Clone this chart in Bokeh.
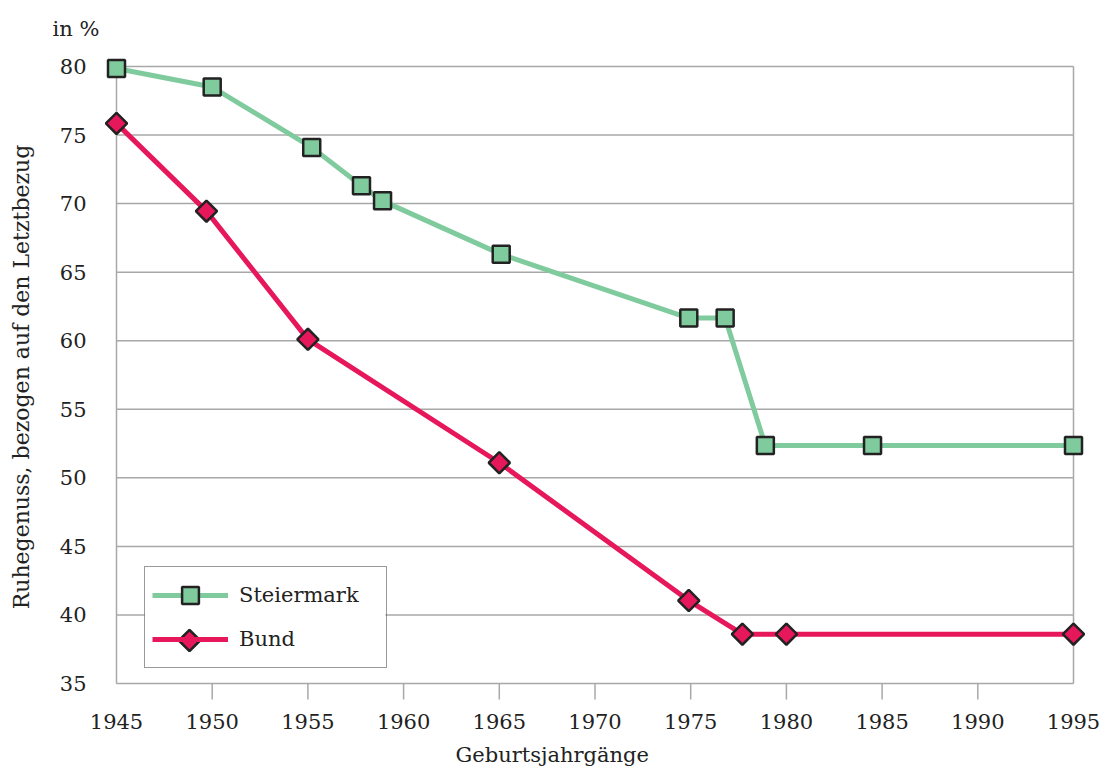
import math
from bokeh.plotting import figure
from bokeh.models import FixedTicker, Legend, LegendItem, Title, ColumnDataSource
from bokeh.embed import file_html
from bokeh.resources import INLINE

# ---- data ----
st_years = [1945, 1950.0, 1955.2, 1957.8, 1958.9, 1965.1, 1974.9, 1976.8, 1978.9, 1984.5, 1995]
st_values = [79.85, 78.5, 74.1, 71.3, 70.2, 66.3, 61.65, 61.65, 52.35, 52.35, 52.35]
bu_years = [1945, 1949.7, 1955.0, 1965.0, 1974.9, 1977.7, 1980.0, 1995]
bu_values = [75.85, 69.45, 60.1, 51.1, 41.05, 38.6, 38.6, 38.6]
x_ticks = [1945, 1950, 1955, 1960, 1965, 1970, 1975, 1980, 1985, 1990, 1995]
y_ticks = [35, 40, 45, 50, 55, 60, 65, 70, 75, 80]
series_names = ["Steiermark", "Bund"]

GREEN = "#80CB9D"
RED = "#E6175B"
EDGE = "#222222"
GRID = "#A8A8A8"
TXT = "#222222"
FONT = "DejaVu Serif"
FS = "21px"

px_x = 957 / 50.0
px_y = 617 / 45.0
x0 = 1945 - 19 / px_x
x1 = x0 + 990 / px_x
y1 = 80 + 14 / px_y
y0 = 35 - 18 / px_y

p = figure(frame_width=990, frame_height=649,
           min_border_left=97, min_border_right=16, min_border_top=52, min_border_bottom=70,
           x_range=(x0, x1), y_range=(y0, y1),
           output_backend="svg", toolbar_location=None)
p.outline_line_color = None
p.background_fill_color = "white"
p.border_fill_color = "white"

# axes
p.xaxis.ticker = FixedTicker(ticks=x_ticks)
p.xaxis.axis_line_color = None
p.xaxis.major_tick_line_color = None
p.xaxis.minor_tick_line_color = None
p.xaxis.major_label_standoff = 6
p.xaxis.major_label_text_font = FONT
p.xaxis.major_label_text_font_size = FS
p.xaxis.major_label_text_color = TXT

p.yaxis.ticker = FixedTicker(ticks=y_ticks)
p.yaxis.axis_line_color = None
p.yaxis.major_tick_line_color = None
p.yaxis.minor_tick_line_color = None
p.yaxis.major_label_standoff = 5
p.yaxis.major_label_text_font = FONT
p.yaxis.major_label_text_font_size = FS
p.yaxis.major_label_text_color = TXT
p.yaxis.axis_label = "Ruhegenuss, bezogen auf den Letztbezug"
p.yaxis.axis_label_text_font = FONT
p.yaxis.axis_label_text_font_size = "22px"
p.yaxis.axis_label_text_font_style = "normal"
p.yaxis.axis_label_text_color = TXT
p.yaxis.axis_label_standoff = 23

p.xgrid.visible = False
p.ygrid.visible = False

# horizontal grid lines, limited to the data span
n = len(y_ticks)
p.segment(x0=[x_ticks[0]] * n, y0=y_ticks, x1=[x_ticks[-1]] * n, y1=y_ticks,
          line_color=GRID, line_width=1.5)
# left/right border lines of the plot box
p.segment(x0=[x_ticks[0], x_ticks[-1]], y0=[y_ticks[0]] * 2,
          x1=[x_ticks[0], x_ticks[-1]], y1=[y_ticks[-1]] * 2,
          line_color=GRID, line_width=1.5)
# outward tick marks on the x axis
tick_len = 16 / px_y
inner = x_ticks[1:-1]
p.segment(x0=inner, y0=[y_ticks[0]] * len(inner), x1=inner,
          y1=[y_ticks[0] - tick_len] * len(inner), line_color=GRID, line_width=1.5)

# legend geometry (screen px from the frame's bottom-left corner)
LEG_X, LEG_Y, PAD, GW, GH, LW, SO, SP = 47, 33, 7, 76, 42, 140, 11, 2
LEG_W = 2 * PAD + GW + SO + LW
LEG_H = 2 * PAD + 2 * GH + SP
# opaque white backing for the legend box (covers the grid lines)
p.quad(left=[x0 + LEG_X / px_x], right=[x0 + (LEG_X + LEG_W) / px_x],
       bottom=[y0 + LEG_Y / px_y], top=[y0 + (LEG_Y + LEG_H) / px_y],
       fill_color="white", line_color=None)

# series
st_src = ColumnDataSource(dict(x=st_years, y=st_values))
bu_src = ColumnDataSource(dict(x=bu_years, y=bu_values))
bl = p.line("x", "y", source=bu_src, line_color=RED, line_width=5)
sl = p.line("x", "y", source=st_src, line_color=GREEN, line_width=5)
bs = p.scatter("x", "y", source=bu_src, marker="square", angle=math.pi / 4, size=15,
               fill_color=RED, line_color=EDGE, line_width=2.5)
ss = p.scatter("x", "y", source=st_src, marker="square", size=17,
               fill_color=GREEN, line_color=EDGE, line_width=2.5)

legend = Legend(items=[LegendItem(label=series_names[0], renderers=[sl, ss]),
                       LegendItem(label=series_names[1], renderers=[bl])],
                location=(LEG_X, LEG_Y))
legend.border_line_color = "#333333"
legend.border_line_width = 1.5
legend.background_fill_alpha = 0
legend.glyph_height = GH
legend.glyph_width = GW
legend.label_height = GH
legend.label_width = LW
legend.label_standoff = SO
legend.spacing = SP
legend.padding = PAD
legend.margin = 0
legend.label_text_font = FONT
legend.label_text_font_size = FS
legend.label_text_color = TXT
legend.label_text_baseline = "middle"
p.add_layout(legend)

# rotated (diamond) key for the Bund legend entry
p.scatter(x=[x0 + (LEG_X + PAD + GW / 2) / px_x], y=[y0 + (LEG_Y + PAD + GH / 2) / px_y],
          marker="square", angle=math.pi / 4, size=15,
          fill_color=RED, line_color=EDGE, line_width=2.5)

# texts
p.add_layout(Title(text="in %", align="left", offset=-45, standoff=23,
                   text_font=FONT, text_font_size=FS, text_font_style="normal",
                   text_color=TXT), "above")
p.add_layout(Title(text="Geburtsjahrgänge", align="left", offset=358, standoff=19,
                   text_font=FONT, text_font_size=FS, text_font_style="normal",
                   text_color=TXT), "below")

open("out.html", "w").write(file_html(p, INLINE))
